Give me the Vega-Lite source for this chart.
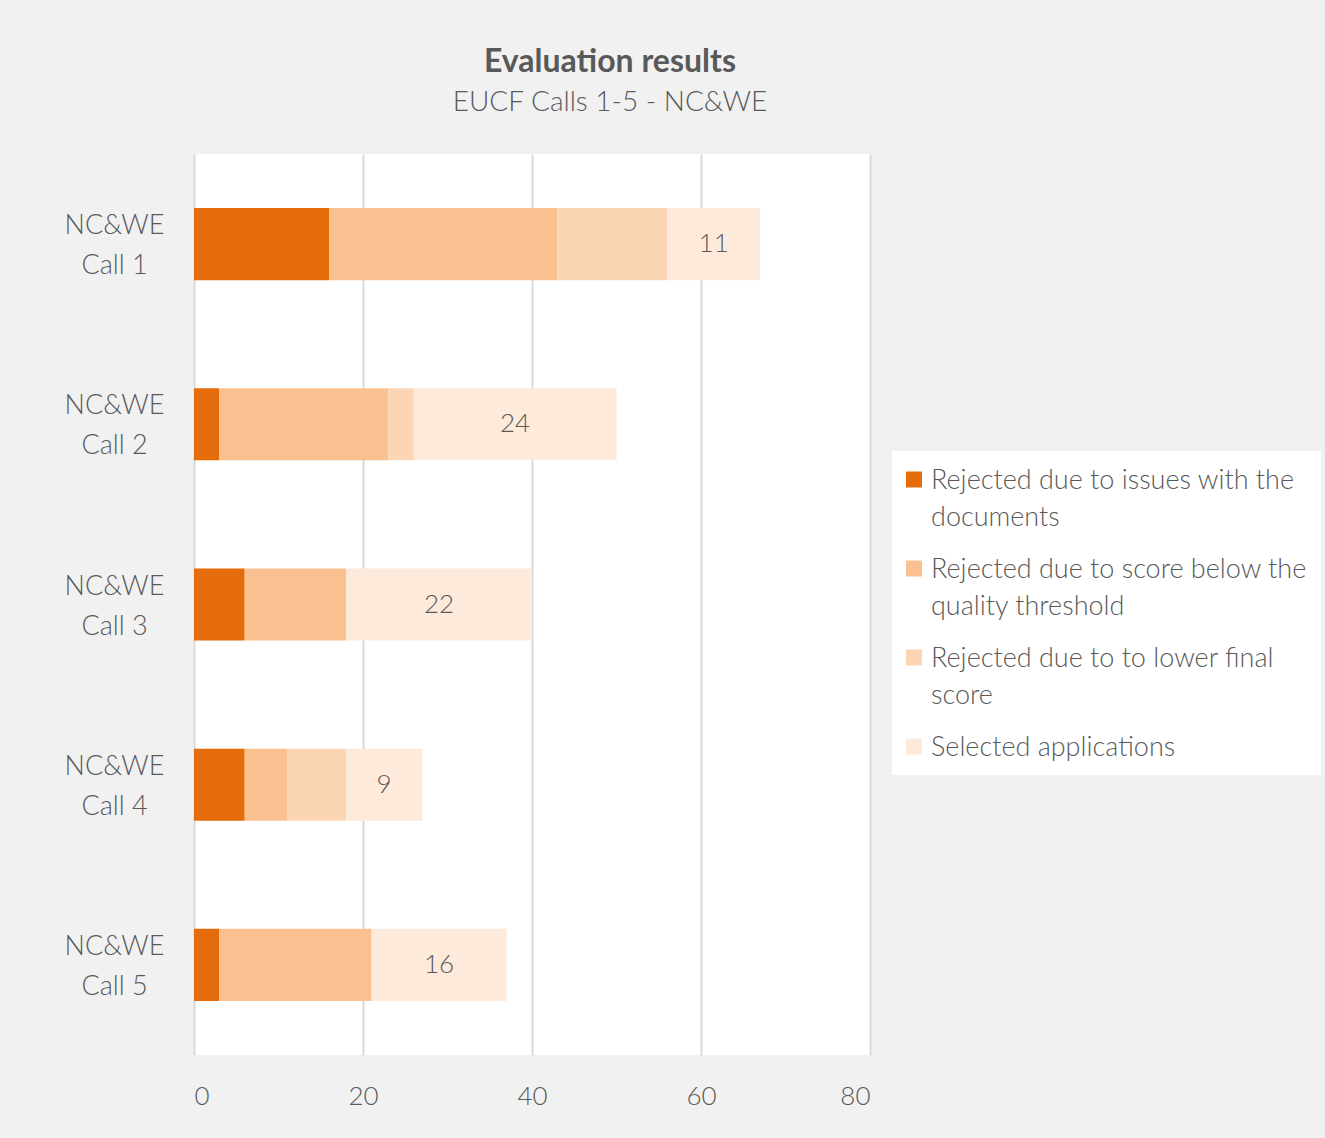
{
  "$schema": "https://vega.github.io/schema/vega-lite/v6.json",
  "background": "#f1f1f1",
  "padding": {"left": 64, "top": 46, "right": 16, "bottom": 32},
  "width": 676,
  "height": 901,
  "title": {
    "text": "Evaluation results",
    "subtitle": "EUCF Calls 1-5 - NC&WE",
    "anchor": "middle",
    "dx": 78,
    "font": "Lato",
    "fontSize": 32,
    "fontWeight": "bold",
    "color": "#595959",
    "subtitleFont": "Lato",
    "subtitleFontSize": 28,
    "subtitleFontWeight": 300,
    "subtitleColor": "#595959",
    "subtitlePadding": 10,
    "offset": 36
  },
  "data": {
    "values": [
      {"call": "NC&WE Call 1", "category": "Rejected due to issues with the documents", "rank": 1, "value": 16},
      {"call": "NC&WE Call 1", "category": "Rejected due to score below the quality threshold", "rank": 2, "value": 27},
      {"call": "NC&WE Call 1", "category": "Rejected due to to lower final score", "rank": 3, "value": 13},
      {"call": "NC&WE Call 1", "category": "Selected applications", "rank": 4, "value": 11},
      {"call": "NC&WE Call 2", "category": "Rejected due to issues with the documents", "rank": 1, "value": 3},
      {"call": "NC&WE Call 2", "category": "Rejected due to score below the quality threshold", "rank": 2, "value": 20},
      {"call": "NC&WE Call 2", "category": "Rejected due to to lower final score", "rank": 3, "value": 3},
      {"call": "NC&WE Call 2", "category": "Selected applications", "rank": 4, "value": 24},
      {"call": "NC&WE Call 3", "category": "Rejected due to issues with the documents", "rank": 1, "value": 6},
      {"call": "NC&WE Call 3", "category": "Rejected due to score below the quality threshold", "rank": 2, "value": 12},
      {"call": "NC&WE Call 3", "category": "Rejected due to to lower final score", "rank": 3, "value": 0},
      {"call": "NC&WE Call 3", "category": "Selected applications", "rank": 4, "value": 22},
      {"call": "NC&WE Call 4", "category": "Rejected due to issues with the documents", "rank": 1, "value": 6},
      {"call": "NC&WE Call 4", "category": "Rejected due to score below the quality threshold", "rank": 2, "value": 5},
      {"call": "NC&WE Call 4", "category": "Rejected due to to lower final score", "rank": 3, "value": 7},
      {"call": "NC&WE Call 4", "category": "Selected applications", "rank": 4, "value": 9},
      {"call": "NC&WE Call 5", "category": "Rejected due to issues with the documents", "rank": 1, "value": 3},
      {"call": "NC&WE Call 5", "category": "Rejected due to score below the quality threshold", "rank": 2, "value": 18},
      {"call": "NC&WE Call 5", "category": "Rejected due to to lower final score", "rank": 3, "value": 0},
      {"call": "NC&WE Call 5", "category": "Selected applications", "rank": 4, "value": 16}
    ]
  },
  "encoding": {
    "y": {
      "field": "call",
      "type": "nominal",
      "sort": ["NC&WE Call 1", "NC&WE Call 2", "NC&WE Call 3", "NC&WE Call 4", "NC&WE Call 5"],
      "scale": {"paddingInner": 0.6, "paddingOuter": 0.3},
      "axis": {
        "title": null,
        "domain": false,
        "ticks": false,
        "labelAlign": "center",
        "labelPadding": 80,
        "labelOffset": -18,
        "labelFont": "Lato",
        "labelFontWeight": 300,
        "labelFontSize": 27,
        "labelLineHeight": 40,
        "labelColor": "#595959",
        "labelExpr": "['NC&WE', replace(datum.label, 'NC&WE ', '')]"
      }
    },
    "x": {
      "field": "value",
      "type": "quantitative",
      "stack": "zero",
      "scale": {"domain": [0, 80], "nice": false},
      "axis": {
        "title": null,
        "values": [0, 20, 40, 60, 80],
        "domain": false,
        "ticks": false,
        "grid": true,
        "gridColor": "#d9d9d9",
        "gridWidth": 2,
        "labelPadding": 28,
        "labelFont": "Lato",
        "labelFontWeight": 300,
        "labelFontSize": 26,
        "labelColor": "#595959"
      }
    },
    "order": {"field": "rank", "type": "quantitative"}
  },
  "layer": [
    {
      "mark": {"type": "bar"},
      "encoding": {
        "color": {
          "field": "category",
          "type": "nominal",
          "scale": {
            "domain": ["Rejected due to issues with the documents", "Rejected due to score below the quality threshold", "Rejected due to to lower final score", "Selected applications"],
            "range": ["#e46c0a", "#fac090", "#fcd5b5", "#fdeada"]
          },
          "legend": {
            "title": null,
            "orient": "none",
            "legendX": 698,
            "legendY": 297,
            "fillColor": "white",
            "padding": 14,
            "symbolType": "M-1,-0.729H-0.333V-0.063H-1Z",
            "symbolSize": 2304,
            "symbolStrokeWidth": 0,
            "labelFont": "Lato",
            "labelFontWeight": 300,
            "labelFontSize": 27,
            "labelColor": "#595959",
            "labelLimit": 500,
            "labelOffset": -23,
            "labelBaseline": "alphabetic",
            "rowPadding": 23,
            "labelExpr": "datum.label == 'Rejected due to issues with the documents' ? ['Rejected due to issues with the', 'documents'] : datum.label == 'Rejected due to score below the quality threshold' ? ['Rejected due to score below the', 'quality threshold'] : datum.label == 'Rejected due to to lower final score' ? ['Rejected due to to lower final', 'score'] : datum.label"
          }
        }
      }
    },
    {
      "mark": {"type": "text", "font": "Lato", "fontWeight": 300, "fontSize": 26, "color": "#595959"},
      "encoding": {
        "x": {"field": "value", "type": "quantitative", "stack": "zero", "bandPosition": 0.5},
        "text": {
          "condition": {"test": "datum.category === 'Selected applications'", "field": "value", "type": "quantitative"},
          "value": ""
        }
      }
    }
  ],
  "config": {
    "view": {"fill": "white", "stroke": null},
    "style": {"guide-label": {"lineHeight": 37}}
  }
}
